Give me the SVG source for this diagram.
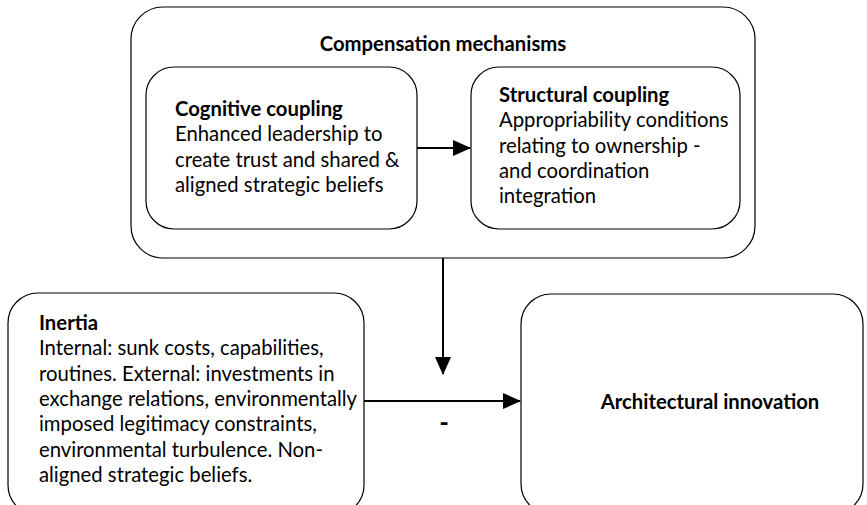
<svg xmlns="http://www.w3.org/2000/svg" width="867" height="505" viewBox="0 0 867 505">
<defs>
<style>
.box{fill:#fff;stroke:#000;stroke-width:1.2}
.t{font-family:Lato,"Open Sans","Liberation Sans",sans-serif;font-size:20.3px;fill:#000}
.b{font-weight:bold}
.conn{stroke:#000;stroke-width:2;fill:none}
</style>
<marker id="ah" markerUnits="userSpaceOnUse" markerWidth="18" markerHeight="16" refX="17" refY="8" orient="auto">
<path d="M0,0 L18,8 L0,16 Z" fill="#000"/>
</marker>
</defs>
<rect width="867" height="505" fill="#fff"/>
<g id="compensation">
<rect class="box" x="131" y="7" width="624" height="251" rx="32"/>
<text class="t b" x="443" y="51" text-anchor="middle">Compensation mechanisms</text>
</g>
<g id="cognitive">
<rect class="box" x="146" y="67" width="271" height="162" rx="28"/>
<text class="t" x="175" y="116"><tspan class="b">Cognitive coupling</tspan><tspan x="175" dy="25.3">Enhanced leadership to</tspan><tspan x="175" dy="25.3">create trust and shared &amp;</tspan><tspan x="175" dy="25.3">aligned strategic beliefs</tspan></text>
</g>
<g id="structural">
<rect class="box" x="471" y="67" width="269" height="162" rx="28"/>
<text class="t" x="499" y="102"><tspan class="b">Structural coupling</tspan><tspan x="499" dy="25.3">Appropriability conditions</tspan><tspan x="499" dy="25.3">relating to ownership -</tspan><tspan x="499" dy="25.3">and coordination</tspan><tspan x="499" dy="25.3">integration</tspan></text>
</g>
<g id="inertia">
<rect class="box" x="8" y="293" width="356" height="222" rx="30"/>
<text class="t" x="39" y="330"><tspan class="b">Inertia</tspan><tspan x="39" dy="25.3">Internal: sunk costs, capabilities,</tspan><tspan x="39" dy="25.3">routines. External: investments in</tspan><tspan x="39" dy="25.3">exchange relations, environmentally</tspan><tspan x="39" dy="25.3">imposed legitimacy constraints,</tspan><tspan x="39" dy="25.3">environmental turbulence. Non-</tspan><tspan x="39" dy="25.3">aligned strategic beliefs.</tspan></text>
</g>
<g id="architectural">
<rect class="box" x="521" y="294" width="342" height="220" rx="30"/>
<text class="t b" x="710" y="409" text-anchor="middle">Architectural innovation</text>
</g>
<g id="connectors">
<line class="conn" x1="417" y1="148" x2="470" y2="148" marker-end="url(#ah)"/>
<line class="conn" x1="443" y1="258" x2="443" y2="374" marker-end="url(#ah)"/>
<line class="conn" x1="364" y1="401" x2="520" y2="401" marker-end="url(#ah)"/>
<text class="t b" x="444" y="432" text-anchor="middle" style="font-size:26px">-</text>
</g>
</svg>
